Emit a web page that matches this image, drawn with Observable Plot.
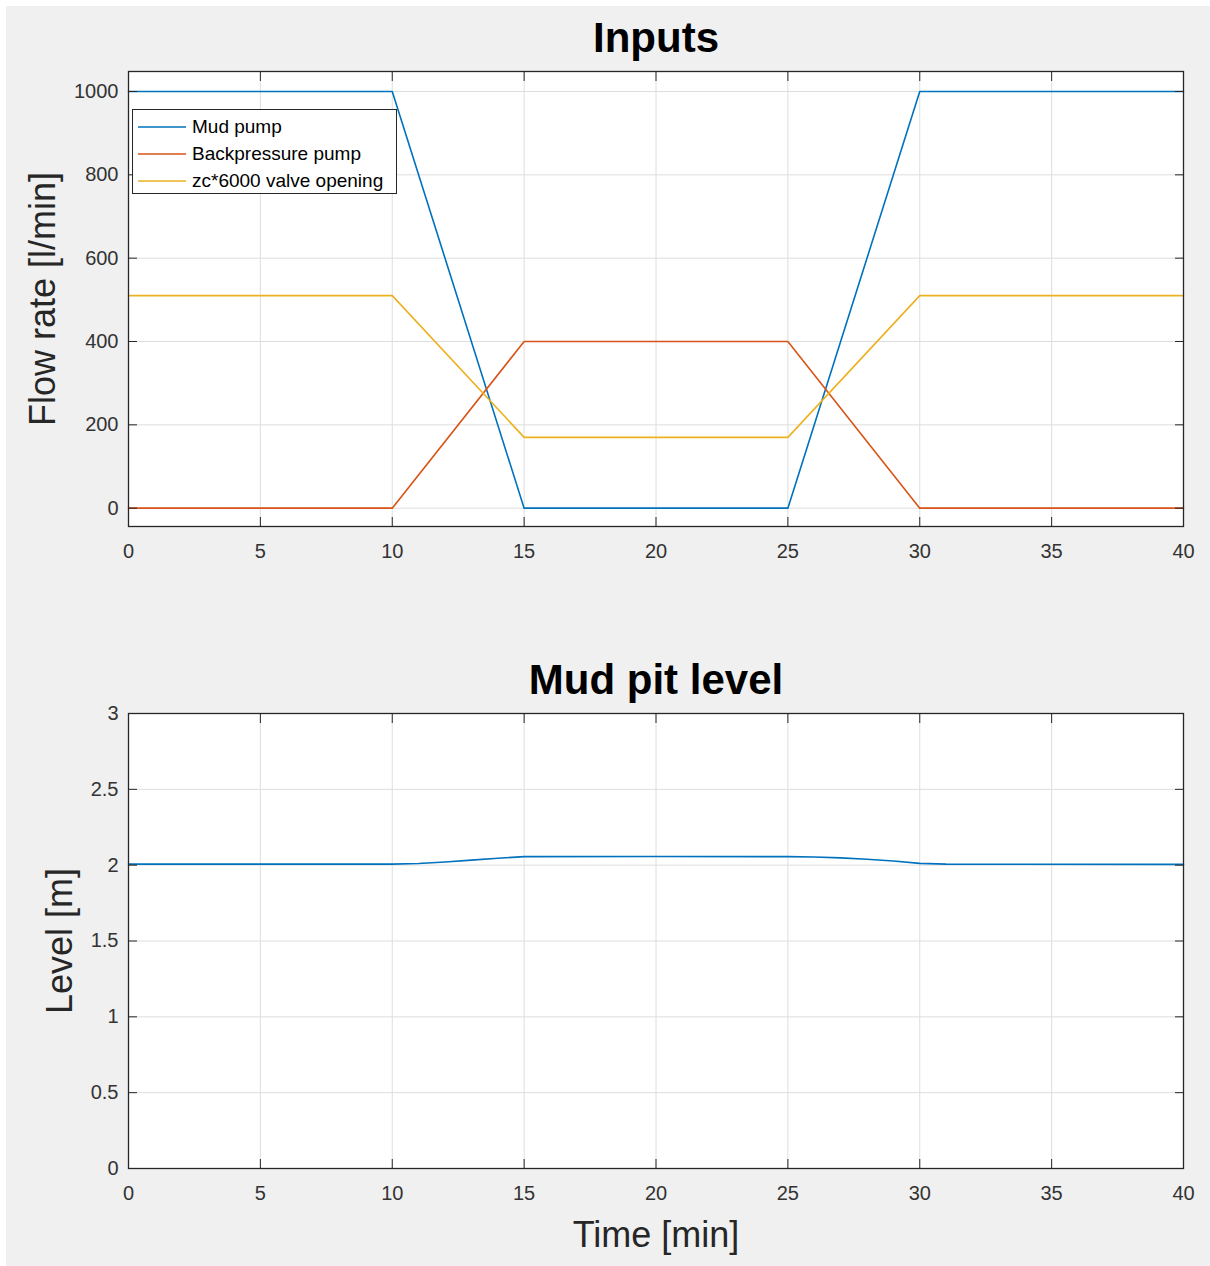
<!DOCTYPE html>
<html><head><meta charset="utf-8">
<script src="https://cdn.jsdelivr.net/npm/d3@7"></script>
<script src="https://cdn.jsdelivr.net/npm/@observablehq/plot@0.6"></script>
<style>
body{margin:0;background:#fff;}
#fig{position:relative;width:1210px;height:1266px;background:#fff;overflow:hidden;font-family:"Liberation Sans",Arial,sans-serif;}
#bg{position:absolute;left:6px;top:6px;right:0;bottom:0;background:#f0f0f0;}
.panel{position:absolute;left:0;}
#legend{position:absolute;left:132px;top:109px;width:263px;height:83px;background:#fff;border:1.5px solid #262626;box-sizing:content-box;}
.lrow{position:absolute;left:0;height:20px;display:flex;align-items:center;font-size:19px;color:#000;white-space:nowrap;}
.lrow svg{margin-left:5px;margin-right:6px;}
</style></head><body>
<div id="fig"><div id="bg"></div><div id="p1" class="panel" style="top:0"></div><div id="p2" class="panel" style="top:600px"></div><div id="legend"></div></div>
<script>
// ---- data ----
const seriesNames = ["Mud pump", "Backpressure pump", "zc*6000 valve opening"];
const seriesColors = ["#0072BD", "#D95319", "#EDB120"];
const inputTime = [0, 10, 15, 25, 30, 40];
const mudPump = [1000, 1000, 0, 0, 1000, 1000];
const backpressurePump = [0, 0, 400, 400, 0, 0];
const valveOpening = [510, 510, 170, 170, 510, 510];
const levelTime = [0, 10, 11, 12, 13, 14, 15, 20, 25, 26, 27, 28, 29, 30, 31, 40];
const pitLevel = [2.007, 2.007, 2.011, 2.021, 2.033, 2.046, 2.056, 2.057, 2.056, 2.054, 2.048, 2.039, 2.027, 2.012, 2.007, 2.005];
const xTicks = [0, 5, 10, 15, 20, 25, 30, 35, 40];
const flowTicks = [0, 200, 400, 600, 800, 1000];
const levelTicks = [0, 0.5, 1, 1.5, 2, 2.5, 3];
const titles = ["Inputs", "Mud pit level"];
const yLabels = ["Flow rate [l/min]", "Level [m]"];
const xLabel = "Time [min]";

const inputSeries = [mudPump, backpressurePump, valveOpening];
const inputRows = inputSeries.flatMap((vals, s) => inputTime.map((t, i) => ({t, v: vals[i], s: seriesNames[s]})));
const levelRows = levelTime.map((t, i) => ({t, v: pitLevel[i]}));

const FONT = '"Liberation Sans", Arial, sans-serif';
const INK = "#262626";

function frameMarks(yTicks) {
  return [
    Plot.frame({fill: "white", stroke: null}),
    Plot.gridX(xTicks, {stroke: "#dedede", strokeOpacity: 1}),
    Plot.gridY(yTicks, {stroke: "#dedede", strokeOpacity: 1}),
  ];
}
function axisMarks(yTicks) {
  const none = () => "";
  return [
    Plot.frame({stroke: INK, strokeWidth: 1.3}),
    Plot.axisX(xTicks, {anchor: "bottom", tickSize: 0, tickPadding: 17, fontSize: 20, fill: "#333", label: null, tickFormat: d => String(d)}),
    Plot.axisX(xTicks, {anchor: "bottom", tickSize: -9, tickFormat: none, label: null, stroke: INK}),
    Plot.axisX(xTicks, {anchor: "top", tickSize: -9, tickFormat: none, label: null, stroke: INK}),
    Plot.axisY(yTicks, {anchor: "left", tickSize: 0, tickPadding: 10, fontSize: 20, fill: "#333", label: null, tickFormat: d => String(d)}),
    Plot.axisY(yTicks, {anchor: "left", tickSize: -9, tickFormat: none, label: null, stroke: INK}),
    Plot.axisY(yTicks, {anchor: "right", tickSize: -9, tickFormat: none, label: null, stroke: INK}),
  ];
}

const p1 = Plot.plot({
  width: 1210, height: 600,
  marginLeft: 128, marginRight: 27, marginTop: 71, marginBottom: 74,
  style: {fontFamily: FONT, background: "transparent", color: INK, overflow: "visible"},
  x: {domain: [0, 40], axis: null},
  y: {domain: [-44, 1048], axis: null},
  color: {domain: seriesNames, range: seriesColors},
  marks: [
    ...frameMarks(flowTicks),
    Plot.line(inputRows, {x: "t", y: "v", z: "s", stroke: "s", strokeWidth: 1.6}),
    ...axisMarks(flowTicks),
    Plot.text([titles[0]], {text: d => d, frameAnchor: "top", lineAnchor: "bottom", dy: -20, fontSize: 42, fontWeight: "bold", fill: "#000"}),
    Plot.text([yLabels[0]], {text: d => d, frameAnchor: "left", rotate: -90, lineAnchor: "middle", textAnchor: "middle", dx: -85, fontSize: 36, fill: INK})
  ]
});
document.getElementById("p1").appendChild(p1);

const p2 = Plot.plot({
  width: 1210, height: 666,
  marginLeft: 128, marginRight: 27, marginTop: 113, marginBottom: 98,
  style: {fontFamily: FONT, background: "transparent", color: INK, overflow: "visible"},
  x: {domain: [0, 40], axis: null},
  y: {domain: [0, 3], axis: null},
  marks: [
    ...frameMarks(levelTicks),
    Plot.line(levelRows, {x: "t", y: "v", stroke: seriesColors[0], strokeWidth: 1.6}),
    ...axisMarks(levelTicks),
    Plot.text([titles[1]], {text: d => d, frameAnchor: "top", lineAnchor: "bottom", dy: -20, fontSize: 42, fontWeight: "bold", fill: "#000"}),
    Plot.text([yLabels[1]], {text: d => d, frameAnchor: "left", rotate: -90, lineAnchor: "middle", textAnchor: "middle", dx: -68, fontSize: 36, fill: INK}),
    Plot.text([xLabel], {text: d => d, frameAnchor: "bottom", lineAnchor: "middle", textAnchor: "middle", dy: 67, fontSize: 36, fill: INK})
  ]
});
document.getElementById("p2").appendChild(p2);

// legend
const leg = document.getElementById("legend");
seriesNames.forEach((name, i) => {
  const row = document.createElement("div");
  row.className = "lrow";
  row.style.top = (7 + i * 27) + "px";
  row.innerHTML = `<svg width="48" height="4"><line x1="0" x2="48" y1="2" y2="2" stroke="${seriesColors[i]}" stroke-width="1.6"/></svg><span>${name}</span>`;
  leg.appendChild(row);
});
</script>
</body></html>
